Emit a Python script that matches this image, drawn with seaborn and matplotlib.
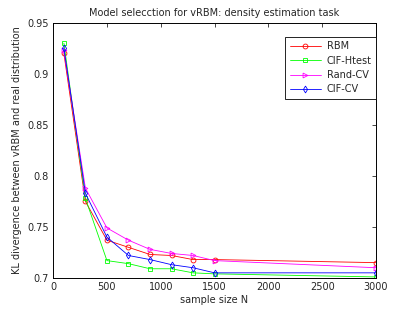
import pandas as pd
import matplotlib
matplotlib.use("Agg")
import matplotlib.pyplot as plt
import seaborn as sns

# sample sizes
sizes = [100, 300, 500, 700, 900, 1100, 1300, 1500, 3000]

# KL divergence per method
rbm = [0.920, 0.775, 0.737, 0.730, 0.723, 0.722, 0.718, 0.718, 0.715]
cif_htest = [0.930, 0.778, 0.717, 0.714, 0.709, 0.709, 0.705, 0.704, 0.701]
rand_cv = [0.923, 0.788, 0.749, 0.737, 0.728, 0.724, 0.722, 0.717, 0.710]
cif_cv = [0.925, 0.783, 0.740, 0.722, 0.718, 0.713, 0.710, 0.705, 0.705]

methods = ['RBM', 'CIF-Htest', 'Rand-CV', 'CIF-CV']
series = [rbm, cif_htest, rand_cv, cif_cv]
colors = ['#ff0000', '#00ff00', '#ff00ff', '#0000ff']
markers = ['o', 's', '>', 'd']

yticks = [0.7, 0.75, 0.8, 0.85, 0.9, 0.95]
ytick_labels = ['0.7', '0.75', '0.8', '0.85', '0.9', '0.95']
xticks = [0, 500, 1000, 1500, 2000, 2500, 3000]

sns.set_style("white")
plt.rcParams['font.family'] = ['DejaVu Sans']
plt.rcParams['font.size'] = 7

fig = plt.figure(figsize=(4.15, 3.13), dpi=100)
ax = fig.add_axes([0.128, 0.112, 0.778, 0.815])

for name, vals, c, m in zip(methods, series, colors, markers):
    df = pd.DataFrame({'N': sizes, 'KL': vals})
    sns.lineplot(data=df, x='N', y='KL', ax=ax, color=c, marker=m,
                 markersize=3.5, markerfacecolor='none', markeredgecolor=c,
                 markeredgewidth=0.6, linewidth=0.6, label=name)

ax.set_xlim(0, 3000)
ax.set_ylim(0.7, 0.95)
ax.set_xticks(xticks)
ax.set_yticks(yticks)
ax.set_yticklabels(ytick_labels)
ax.tick_params(direction='in', top=True, right=True, length=3, width=0.6,
               labelsize=7, pad=3)
for s in ax.spines.values():
    s.set_linewidth(0.7)
    s.set_color('black')

ax.set_title('Model selecction for vRBM: density estimation task', fontsize=7, pad=5)
ax.set_xlabel('sample size N', fontsize=7, labelpad=2)
ax.set_ylabel('KL divergence between vRBM and real distribution', fontsize=7, labelpad=4)

leg = ax.legend(loc='upper right', bbox_to_anchor=(1.0, 0.945), borderaxespad=0,
                fontsize=7, fancybox=False, framealpha=1, edgecolor='black',
                handlelength=3.2, borderpad=0.45, labelspacing=0.45,
                handletextpad=0.6)
leg.get_frame().set_linewidth(0.6)

fig.savefig('out.png', dpi=100)
